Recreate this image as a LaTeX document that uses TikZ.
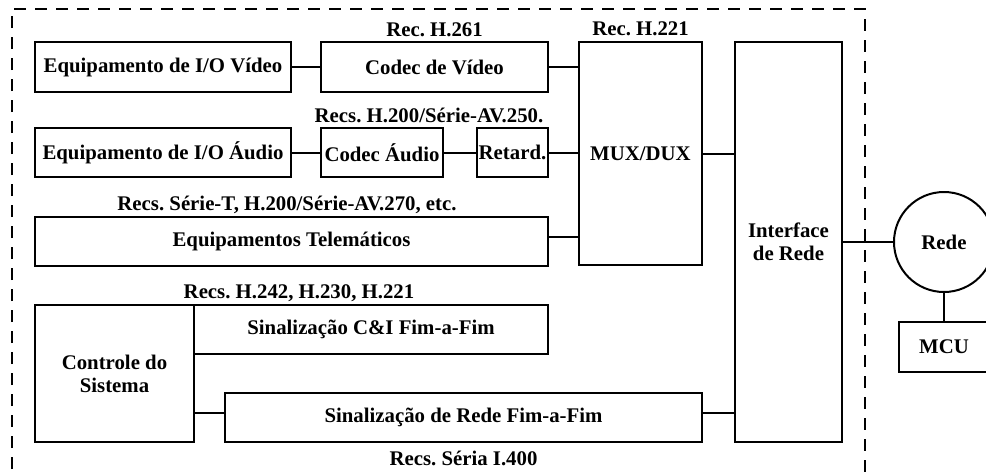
\documentclass[tikz,border=0pt]{standalone}
\usepackage{fontspec}
\setmainfont{Liberation Serif}
\frenchspacing
\begin{document}
\begin{tikzpicture}[x=1pt,y=-1pt,
  every node/.style={font=\fontsize{20.8}{23}\selectfont\bfseries\frenchspacing},
  blk/.style={draw,line width=2pt,inner sep=0pt,align=center},
  lnk/.style={line width=2pt},
  lbl/.style={anchor=base,inner sep=0pt},
  frame/.style={line width=1.2pt,dash pattern=on 12pt off 9pt}]
\path[use as bounding box,clip] (0,0) rectangle (986,475);
\draw[frame] (12,490) -- (12,9) -- (865,9) -- (865,490);
% boxes
\node[blk,minimum width=256,minimum height=50] (vio) at (163,67) {Equipamento de I/O Vídeo};
\node[blk,minimum width=227,minimum height=50] (cvid) at (434.5,67) {Codec de Vídeo};
\node[blk,minimum width=123,minimum height=223] (mux) at (640.5,153.5) {MUX/DUX};
\node[blk,minimum width=107,minimum height=400] (iface) at (788.5,242) {Interface\\de Rede};
\node[blk,minimum width=256,minimum height=49] (aio) at (163,152.5) {Equipamento de I/O Áudio};
\node[blk,minimum width=122,minimum height=49] (caud) at (382,152.5) {Codec Áudio};
\node[blk,minimum width=71,minimum height=49] (ret) at (512.5,152.5) {Retard.};
\node[blk,minimum width=513,minimum height=49] (tele) at (291.5,241.5) {Equipamentos Telemáticos};
\node[blk,minimum width=159,minimum height=137] (ctrl) at (114.5,373.5) {Controle do\\Sistema};
\node[blk,minimum width=354,minimum height=49] (ci) at (371,329.5) {Sinalização C\&I Fim-a-Fim};
\node[blk,minimum width=477,minimum height=49] (srede) at (463.5,417.5) {Sinalização de Rede Fim-a-Fim};
\node[blk,circle,minimum size=100] (rede) at (944,242) {Rede};
\node[blk,minimum width=90,minimum height=50] (mcu) at (944,347) {MCU};
% labels
\node[lbl] (l261) at (434.5,36.5) {Rec. H.261};
\node[lbl] (l221) at (640.5,35.5) {Rec. H.221};
\node[lbl] (l250) at (429,122.5) {Recs. H.200/Série-AV.250.};
\node[lbl] (l270) at (287,210.5) {Recs. Série-T, H.200/Série-AV.270, etc.};
\node[lbl] (l242) at (299,298) {Recs. H.242, H.230, H.221};
\node[lbl] (l400) at (463.5,465) {Recs. Séria I.400};
% connectors
\draw[lnk] (vio.east) -- (cvid.west);
\draw[lnk] (cvid.east) -- (cvid.east -| mux.west);
\draw[lnk] (aio.east) -- (caud.west);
\draw[lnk] (caud.east) -- (ret.west);
\draw[lnk] (ret.east) -- (ret.east -| mux.west);
\draw[lnk] ([yshift=4.5pt]tele.east) -- ([yshift=4.5pt]tele.east -| mux.west);
\draw[lnk] (mux.east) -- (mux.east -| iface.west);
\draw[lnk] ([yshift=4.5pt]srede.east) -- ([yshift=4.5pt]srede.east -| iface.west);
\draw[lnk] ([yshift=4.5pt]srede.west) -- ([yshift=4.5pt]srede.west -| ctrl.east);
\draw[lnk] (iface.east) -- (rede.west);
\draw[lnk] (rede.south) -- (mcu.north);
\end{tikzpicture}
\end{document}
